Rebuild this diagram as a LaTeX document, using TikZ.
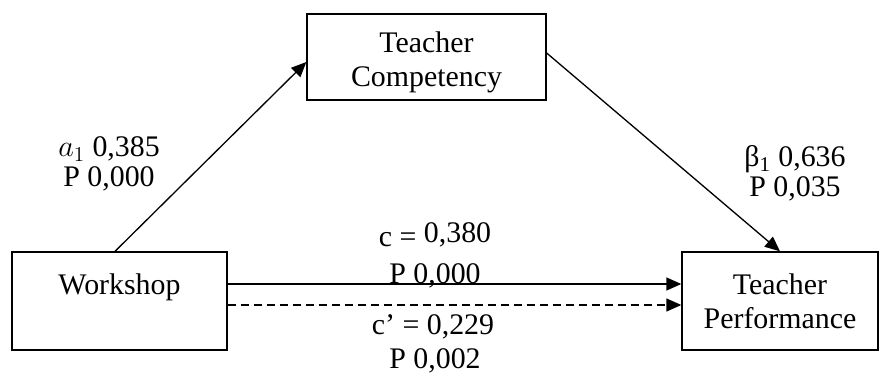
\documentclass[tikz,border=0pt]{standalone}
\usepackage{fontspec}
\setmainfont{Liberation Serif}
\usetikzlibrary{arrows.meta}

\begin{document}
\begin{tikzpicture}[font=\fontsize{17}{19.4}\selectfont,
box/.style={draw,line width=0.75pt,align=center,inner sep=0pt},
arr/.style={line width=0.75pt,-{Triangle[length=3mm,width=2.6mm]}}]
\useasboundingbox (0,0) rectangle (17.6,7.5);

\node[box,minimum width=4.78cm,minimum height=1.72cm](TC)at(8.53,6.36){\rule{0pt}{0.62cm}Teacher\\Competency};
\node[box,minimum width=4.3cm,minimum height=1.96cm](WS)at(2.39,1.48){Workshop\\\phantom{Performance}};
\node[box,minimum width=3.92cm,minimum height=1.96cm](TP)at(15.6,1.48){Teacher\\Performance};

%%paths
\draw[arr]([xshift=-0.9mm]WS.north)--([yshift=-1mm]TC.west);
\draw[arr]([yshift=0.8mm]TC.east)--(TP.north);
\draw[arr]([yshift=3.4mm]WS.east)--([yshift=3.4mm]TP.west);
\draw[arr,dash pattern=on 1.6mm off 1mm]([yshift=-0.8mm]WS.east)--([yshift=-0.8mm]TP.west);

%%labels
\node[anchor=base](A1)at(2.18,4.36){$a_1$ 0,385};
\node[anchor=base](PA)at(2.18,3.76){P 0,000};
\node[anchor=base](B1)at(15.9,4.16){β\textsubscript{1} 0,636};
\node[anchor=base](PB)at(15.9,3.56){P 0,035};
\node[anchor=base](C)at(8.7,2.56){c = \raisebox{1mm}{0,380}};
\node[anchor=base](PC)at(8.7,1.84){P 0,000};
\node[anchor=base](CC)at(8.66,0.8){c’ = 0,229};
\node[anchor=base](PCC)at(8.7,0.13){P 0,002};
\end{tikzpicture}
\end{document}
